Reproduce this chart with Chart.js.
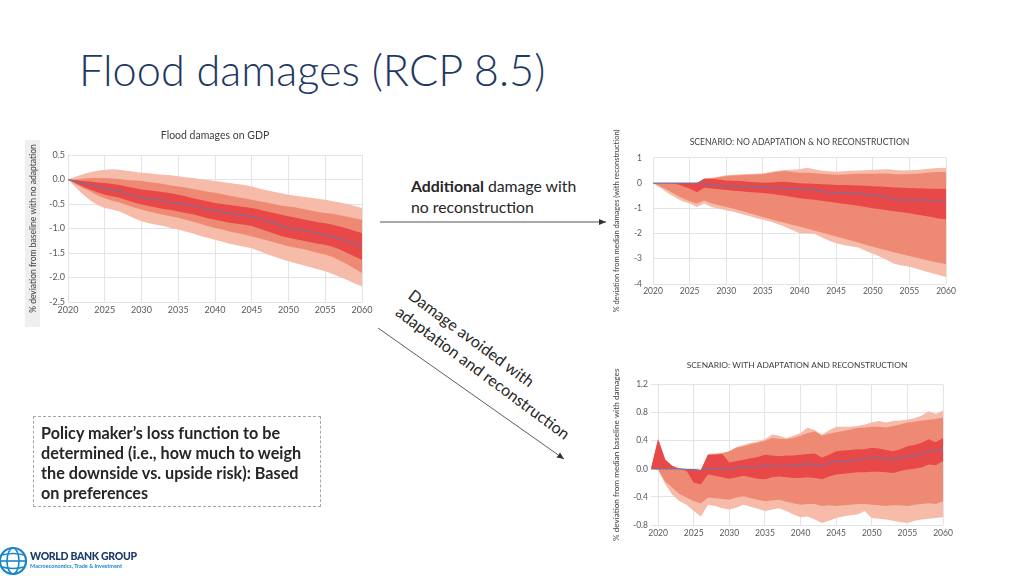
<!DOCTYPE html>
<html><head><meta charset="utf-8">
<script src="https://cdn.jsdelivr.net/npm/chart.js@4.4.1/dist/chart.umd.min.js"></script>
<style>
html,body{margin:0;padding:0;background:#fff;}
body{width:1024px;height:576px;position:relative;overflow:hidden;font-family:Lato,'Open Sans',sans-serif;}
.abs{position:absolute;}
canvas{position:absolute;}
#title{left:79px;top:48px;font-size:43.3px;font-weight:300;color:#1F3864;white-space:nowrap;line-height:1;}
#addl{left:411px;top:175px;font-size:15.8px;line-height:21px;color:#262626;white-space:nowrap;}
#avoid{left:417px;top:284px;font-size:16px;line-height:21px;color:#262626;white-space:nowrap;transform-origin:0 0;transform:rotate(36.5deg);}
#policy{left:33px;top:416px;width:286px;height:89px;border:1px dashed #a6a6a6;padding:0;box-sizing:content-box;}
#policy div{position:absolute;left:7px;top:6px;font-size:16.2px;font-weight:bold;line-height:20px;color:#262626;white-space:nowrap;}
#ybg{left:25px;top:140px;width:15px;height:187px;background:#efefef;}
#wbg{left:30px;top:550px;font-size:10.5px;font-weight:900;color:#1b3a6b;white-space:nowrap;letter-spacing:-0.3px;}
#wbs{left:30px;top:563px;font-size:5.5px;font-weight:bold;color:#1a86c8;white-space:nowrap;}
</style></head><body>
<div id="title" class="abs">Flood damages (RCP 8.5)</div>
<div id="ybg" class="abs"></div>
<canvas id="c1" width="356" height="212" style="left:24px;top:120px;"></canvas>
<canvas id="c2" width="356" height="202" style="left:608px;top:118px;"></canvas>
<canvas id="c3" width="355" height="200" style="left:607px;top:352px;"></canvas>
<div id="addl" class="abs"><b>Additional</b> damage with<br>no reconstruction</div>
<div id="avoid" class="abs">Damage avoided with<br>adaptation and reconstruction</div>
<svg class="abs" style="left:0;top:0" width="1024" height="576">
  <defs>
    <marker id="ah" markerWidth="8" markerHeight="8" refX="7" refY="4" orient="auto" markerUnits="userSpaceOnUse">
      <path d="M0,1 L7,4 L0,7 z" fill="#333"/>
    </marker>
  </defs>
  <line x1="380" y1="222" x2="606" y2="222" stroke="#8c8c8c" stroke-width="1.3" marker-end="url(#ah)"/>
  <line x1="378" y1="328" x2="564" y2="459" stroke="#333" stroke-width="0.8" marker-end="url(#ah)"/>
  <g transform="translate(13,561)">
    <circle cx="0" cy="0" r="13" fill="none" stroke="#1a86c8" stroke-width="2.2"/>
    <ellipse cx="0" cy="0" rx="6" ry="13" fill="none" stroke="#1a86c8" stroke-width="1.6"/>
    <line x1="-13" y1="0" x2="13" y2="0" stroke="#1a86c8" stroke-width="1.6"/>
    <path d="M-11,-6 Q0,-9 11,-6 M-11,6 Q0,9 11,6" fill="none" stroke="#1a86c8" stroke-width="1.4"/>
  </g>
</svg>
<div id="policy" class="abs"><div>Policy maker’s loss function to be<br>determined (i.e., how much to weigh<br>the downside vs. upside risk): Based<br>on preferences</div></div>
<div id="wbg" class="abs">WORLD BANK GROUP</div>
<div id="wbs" class="abs">Macroeconomics, Trade &amp; Investment</div>
<script>
// ---------- Chart 1: Flood damages on GDP ----------
const years1 = [2020,2021,2022,2023,2024,2025,2026,2027,2028,2029,2030,2031,2032,2033,2034,2035,2036,2037,2038,2039,2040,2041,2042,2043,2044,2045,2046,2047,2048,2049,2050,2051,2052,2053,2054,2055,2056,2057,2058,2059,2060];
const c1Median = [0,-0.04,-0.08,-0.11,-0.15,-0.18,-0.21,-0.23,-0.28,-0.33,-0.37,-0.39,-0.41,-0.43,-0.46,-0.48,-0.51,-0.54,-0.57,-0.61,-0.63,-0.66,-0.69,-0.71,-0.73,-0.75,-0.79,-0.84,-0.89,-0.94,-0.99,-1.01,-1.04,-1.07,-1.10,-1.13,-1.17,-1.21,-1.26,-1.31,-1.36];
const c1OuterHi = [0,0.06,0.11,0.15,0.18,0.20,0.21,0.20,0.18,0.16,0.14,0.13,0.11,0.10,0.09,0.07,0.05,0.03,0.01,-0.01,-0.03,-0.05,-0.07,-0.09,-0.11,-0.14,-0.18,-0.22,-0.25,-0.28,-0.31,-0.33,-0.35,-0.37,-0.39,-0.41,-0.44,-0.47,-0.50,-0.54,-0.58];
const c1MidHi = [0,0.00,0.02,0.03,0.03,0.03,0.02,0.01,-0.01,-0.02,-0.03,-0.05,-0.07,-0.09,-0.12,-0.14,-0.16,-0.19,-0.22,-0.25,-0.27,-0.30,-0.33,-0.36,-0.38,-0.41,-0.44,-0.47,-0.50,-0.53,-0.55,-0.57,-0.60,-0.63,-0.66,-0.68,-0.70,-0.73,-0.76,-0.79,-0.82];
const c1InnerHi = [0,-0.01,-0.03,-0.04,-0.06,-0.07,-0.09,-0.11,-0.14,-0.17,-0.20,-0.22,-0.24,-0.26,-0.28,-0.31,-0.34,-0.38,-0.41,-0.45,-0.48,-0.50,-0.52,-0.54,-0.56,-0.58,-0.61,-0.65,-0.68,-0.72,-0.75,-0.78,-0.81,-0.84,-0.87,-0.89,-0.92,-0.96,-1.00,-1.05,-1.09];
const c1InnerLo = [0,-0.07,-0.14,-0.20,-0.26,-0.31,-0.34,-0.37,-0.42,-0.47,-0.51,-0.54,-0.57,-0.60,-0.62,-0.65,-0.68,-0.71,-0.75,-0.79,-0.82,-0.85,-0.88,-0.90,-0.92,-0.95,-1.00,-1.05,-1.10,-1.15,-1.19,-1.22,-1.25,-1.28,-1.31,-1.33,-1.37,-1.43,-1.50,-1.57,-1.64];
const c1MidLo = [0,-0.09,-0.17,-0.24,-0.32,-0.38,-0.43,-0.47,-0.52,-0.57,-0.61,-0.65,-0.69,-0.72,-0.75,-0.78,-0.82,-0.86,-0.90,-0.95,-0.99,-1.02,-1.06,-1.09,-1.12,-1.16,-1.20,-1.24,-1.28,-1.32,-1.36,-1.39,-1.42,-1.46,-1.50,-1.53,-1.58,-1.65,-1.73,-1.82,-1.91];
const c1OuterLo = [0,-0.15,-0.30,-0.42,-0.52,-0.58,-0.61,-0.65,-0.72,-0.79,-0.85,-0.89,-0.92,-0.95,-0.99,-1.02,-1.06,-1.10,-1.15,-1.19,-1.23,-1.27,-1.31,-1.34,-1.37,-1.40,-1.46,-1.52,-1.57,-1.62,-1.67,-1.71,-1.75,-1.79,-1.83,-1.87,-1.93,-1.99,-2.05,-2.12,-2.18];
const xTicks1 = [2020,2025,2030,2035,2040,2045,2050,2055,2060];
const yTicks1 = [0.5,0,-0.5,-1,-1.5,-2,-2.5];

// ---------- Chart 2: No adaptation & no reconstruction ----------
const years2 = years1;
const c2Median = [0,0,0,0,0,0,0,-0.04,-0.07,-0.10,-0.12,-0.12,-0.13,-0.14,-0.15,-0.16,-0.18,-0.20,-0.20,-0.21,-0.23,-0.24,-0.28,-0.33,-0.37,-0.39,-0.39,-0.40,-0.41,-0.45,-0.49,-0.52,-0.55,-0.65,-0.67,-0.68,-0.68,-0.68,-0.69,-0.72,-0.76];
const c2OuterHi = [0,0,0,0,0,0,0,0.19,0.21,0.26,0.31,0.33,0.35,0.36,0.37,0.39,0.44,0.49,0.52,0.53,0.55,0.61,0.55,0.50,0.47,0.45,0.47,0.49,0.50,0.51,0.52,0.54,0.55,0.52,0.50,0.51,0.52,0.55,0.58,0.60,0.61];
const c2MidHi = [0,0,0,0,0,0,0,0.15,0.18,0.23,0.28,0.30,0.31,0.33,0.34,0.35,0.40,0.45,0.48,0.44,0.41,0.41,0.39,0.37,0.35,0.33,0.34,0.36,0.37,0.37,0.37,0.38,0.38,0.35,0.35,0.36,0.37,0.40,0.43,0.44,0.43];
const c2InnerHi = [0,0,0,0,0,0,0,0.17,0.17,0.14,0.10,0.09,0.08,0.05,0.03,0.01,0.02,0.04,0.05,0.02,-0.01,-0.02,-0.03,-0.05,-0.06,-0.08,-0.08,-0.09,-0.10,-0.11,-0.13,-0.14,-0.16,-0.18,-0.19,-0.20,-0.21,-0.22,-0.23,-0.23,-0.24];
const c2InnerLo = [0,0,0,-0.02,-0.12,-0.22,-0.36,-0.19,-0.22,-0.25,-0.28,-0.30,-0.32,-0.35,-0.37,-0.39,-0.42,-0.46,-0.50,-0.55,-0.60,-0.63,-0.66,-0.70,-0.74,-0.78,-0.82,-0.86,-0.90,-0.95,-1.00,-1.04,-1.08,-1.12,-1.16,-1.20,-1.25,-1.30,-1.35,-1.40,-1.43];
const c2MidLo = [0,-0.14,-0.28,-0.44,-0.59,-0.72,-0.81,-0.69,-0.81,-0.88,-0.95,-1.02,-1.10,-1.18,-1.27,-1.35,-1.42,-1.50,-1.57,-1.65,-1.72,-1.80,-1.88,-1.96,-2.04,-2.12,-2.20,-2.28,-2.36,-2.44,-2.52,-2.60,-2.67,-2.75,-2.82,-2.89,-2.96,-3.03,-3.10,-3.16,-3.21];
const c2OuterLo = [0,-0.19,-0.39,-0.56,-0.72,-0.81,-0.95,-0.81,-0.95,-1.02,-1.08,-1.14,-1.22,-1.30,-1.38,-1.45,-1.52,-1.62,-1.73,-1.86,-1.99,-1.99,-2.01,-2.15,-2.28,-2.39,-2.45,-2.50,-2.55,-2.68,-2.79,-2.92,-3.06,-3.21,-3.27,-3.32,-3.40,-3.48,-3.56,-3.64,-3.72];
const xTicks2 = [2020,2025,2030,2035,2040,2045,2050,2055,2060];
const yTicks2 = [1,0,-1,-2,-3,-4];

// ---------- Chart 3: With adaptation and reconstruction ----------
const years3 = [2019,2020,2021,2022,2023,2024,2025,2026,2027,2028,2029,2030,2031,2032,2033,2034,2035,2036,2037,2038,2039,2040,2041,2042,2043,2044,2045,2046,2047,2048,2049,2050,2051,2052,2053,2054,2055,2056,2057,2058,2059,2060];
const c3Median = [0,0,0,0,0,-0.01,-0.01,-0.02,0.00,0.00,0.01,0.00,0.01,0.02,0.03,0.03,0.05,0.04,0.04,0.04,0.05,0.06,0.07,0.06,0.04,0.08,0.11,0.11,0.12,0.13,0.14,0.16,0.16,0.14,0.12,0.16,0.18,0.18,0.20,0.26,0.24,0.30];
const c3OuterHi = [0,0.42,0.13,0.04,0,-0.01,-0.01,-0.02,0.21,0.22,0.23,0.25,0.31,0.34,0.37,0.39,0.42,0.49,0.47,0.44,0.47,0.51,0.59,0.55,0.49,0.55,0.60,0.60,0.60,0.61,0.63,0.66,0.68,0.66,0.68,0.69,0.70,0.72,0.76,0.82,0.78,0.83];
const c3MidHi = [0,0.42,0.13,0.04,0,-0.01,-0.01,-0.02,0.20,0.21,0.22,0.25,0.30,0.32,0.35,0.37,0.40,0.44,0.43,0.42,0.44,0.47,0.51,0.53,0.47,0.50,0.52,0.54,0.56,0.58,0.59,0.60,0.60,0.59,0.61,0.63,0.66,0.67,0.69,0.70,0.71,0.73];
const c3InnerHi = [0,0.42,0.13,0.04,0,-0.01,-0.01,-0.02,0.20,0.20,0.21,0.09,0.11,0.13,0.15,0.17,0.20,0.19,0.18,0.19,0.19,0.20,0.21,0.22,0.16,0.20,0.25,0.26,0.27,0.28,0.28,0.30,0.29,0.27,0.25,0.28,0.32,0.34,0.37,0.42,0.38,0.44];
const c3InnerLo = [0,0,0,0,0,-0.03,-0.20,-0.22,-0.08,-0.10,-0.12,-0.14,-0.12,-0.10,-0.12,-0.14,-0.15,-0.12,-0.11,-0.12,-0.13,-0.13,-0.12,-0.13,-0.15,-0.11,-0.08,-0.07,-0.06,-0.05,-0.05,-0.04,-0.04,-0.05,-0.06,-0.03,-0.01,0.00,0.02,0.06,0.05,0.11];
const c3MidLo = [0,-0.01,-0.18,-0.27,-0.36,-0.41,-0.46,-0.49,-0.41,-0.42,-0.43,-0.44,-0.41,-0.39,-0.42,-0.44,-0.46,-0.45,-0.44,-0.47,-0.49,-0.51,-0.50,-0.50,-0.53,-0.52,-0.53,-0.52,-0.51,-0.50,-0.50,-0.51,-0.52,-0.53,-0.52,-0.52,-0.53,-0.51,-0.50,-0.49,-0.50,-0.46];
const c3OuterLo = [0,-0.02,-0.22,-0.37,-0.46,-0.51,-0.60,-0.68,-0.51,-0.53,-0.56,-0.58,-0.55,-0.51,-0.54,-0.57,-0.60,-0.58,-0.56,-0.60,-0.65,-0.69,-0.68,-0.72,-0.77,-0.74,-0.70,-0.68,-0.66,-0.65,-0.60,-0.70,-0.71,-0.72,-0.74,-0.76,-0.77,-0.74,-0.72,-0.71,-0.70,-0.69];
const xTicks3 = [2020,2025,2030,2035,2040,2045,2050,2055,2060];
const yTicks3 = [1.2,0.8,0.4,0,-0.4,-0.8];

// ---------- styling ----------
const LIGHT = '#f6bba9';
const MID = '#ee8a74';
const DARK = '#e84848';
const MEDIAN = '#7d6f9c';
const GRID = '#e4e4e4';
const TICK = '#595959';
const FONT = "Lato, 'Open Sans', sans-serif";

function makeFan(id, o) {
  const pts = arr => arr.map((v, i) => ({x: o.years[i], y: v}));
  const band = (arr, fill, color) => ({data: pts(arr), borderColor: 'transparent', borderWidth: 0, pointRadius: 0, fill: fill, backgroundColor: color || 'transparent', tension: 0});
  return new Chart(document.getElementById(id), {
    type: 'line',
    data: {datasets: [
      {data: pts(o.median), borderColor: MEDIAN, borderWidth: 1.2, pointRadius: 0, fill: false, tension: 0},
      band(o.innerLo, false), band(o.innerHi, '-1', DARK),
      band(o.midLo, false), band(o.midHi, '-1', MID),
      band(o.outerLo, false), band(o.outerHi, '-1', LIGHT)
    ]},
    options: {
      responsive: false, animation: false, devicePixelRatio: 1,
      layout: {padding: {right: o.padRight, left: 0, top: 0, bottom: 0}},
      plugins: {
        legend: {display: false}, tooltip: {enabled: false},
        title: {display: true, fullSize: false, text: o.title, color: '#404040', font: {family: FONT, size: o.titleSize, weight: 'normal'}, padding: {top: o.titleTop, bottom: o.titleBottom}}
      },
      scales: {
        x: {type: 'linear', min: o.years[0], max: o.years[o.years.length - 1],
          afterBuildTicks: s => { s.ticks = o.xTicks.map(v => ({value: v})); },
          afterFit: s => { s.height = o.xHeight; },
          grid: {color: GRID, drawTicks: false}, border: {display: false},
          ticks: {color: TICK, font: {family: FONT, size: o.tickSize}, padding: o.xPad, maxRotation: 0, autoSkip: false, callback: v => String(v)}},
        y: {type: 'linear', min: o.yTicks[o.yTicks.length - 1], max: o.yTicks[0],
          afterBuildTicks: s => { s.ticks = o.yTicks.slice().reverse().map(v => ({value: v})); },
          afterFit: s => { s.width = o.yWidth; },
          grid: {color: GRID, drawTicks: false}, border: {display: false},
          title: {display: true, text: o.yTitle, color: '#404040', font: {family: FONT, size: o.yTitleSize}, padding: {top: 4, bottom: 4}},
          ticks: {color: TICK, font: {family: FONT, size: o.tickSize}, padding: o.yPad, callback: v => o.fmt(v)}}
      }
    }
  });
}

makeFan('c1', {years: years1, median: c1Median, outerHi: c1OuterHi, midHi: c1MidHi, innerHi: c1InnerHi, innerLo: c1InnerLo, midLo: c1MidLo, outerLo: c1OuterLo,
  xTicks: xTicks1, yTicks: yTicks1, title: 'Flood damages on GDP', titleSize: 10.5, titleTop: 9, titleBottom: 13.5,
  yTitle: '% deviation from baseline with no adaptation', yTitleSize: 8.5, tickSize: 9, xPad: 3, yPad: 3,
  yWidth: 44, xHeight: 30, padRight: 18, fmt: v => v.toFixed(1)});

makeFan('c2', {years: years2, median: c2Median, outerHi: c2OuterHi, midHi: c2MidHi, innerHi: c2InnerHi, innerLo: c2InnerLo, midLo: c2MidLo, outerLo: c2OuterLo,
  xTicks: xTicks2, yTicks: yTicks2, title: 'SCENARIO: NO ADAPTATION & NO RECONSTRUCTION', titleSize: 8.6, titleTop: 19.5, titleBottom: 10,
  yTitle: '% deviation from median damages (with reconstruction)', yTitleSize: 7.5, tickSize: 8.5, xPad: 2.5, yPad: 11,
  yWidth: 45, xHeight: 36, padRight: 18, fmt: v => String(Math.round(v))});

makeFan('c3', {years: years3, median: c3Median, outerHi: c3OuterHi, midHi: c3MidHi, innerHi: c3InnerHi, innerLo: c3InnerLo, midLo: c3MidLo, outerLo: c3OuterLo,
  xTicks: xTicks3, yTicks: yTicks3, title: 'SCENARIO: WITH ADAPTATION AND RECONSTRUCTION', titleSize: 8.4, titleTop: 8.5, titleBottom: 14,
  yTitle: '% deviation from median baseline with damages', yTitleSize: 8.2, tickSize: 8.5, xPad: 3.5, yPad: 3,
  yWidth: 44, xHeight: 27, padRight: 19, fmt: v => v.toFixed(1)});
</script>
</body></html>
